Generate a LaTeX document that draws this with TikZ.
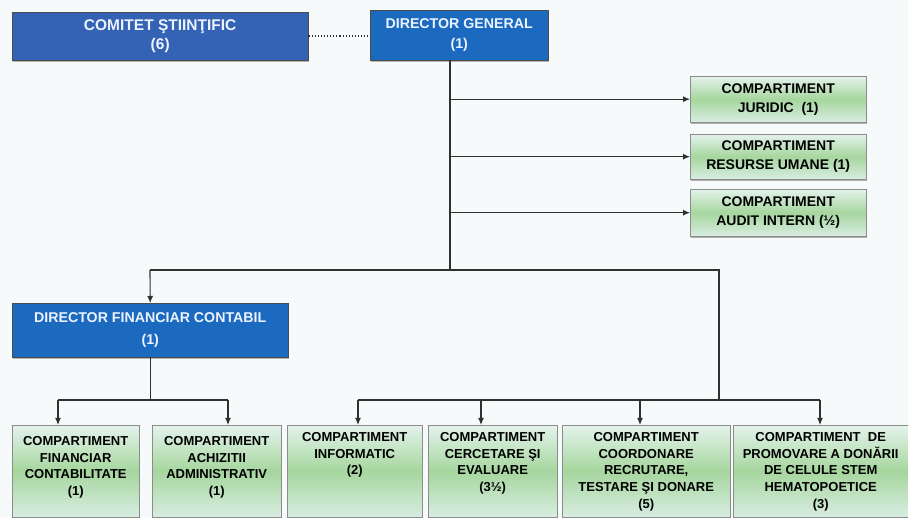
\documentclass[tikz,border=0pt]{standalone}
\usepackage{fontspec}
\setmainfont{Liberation Sans}
\usetikzlibrary{shadows,arrows.meta}

\definecolor{bgpage}{RGB}{246,250,250}
\definecolor{csblue}{RGB}{52,98,180}
\definecolor{dgblue}{RGB}{28,106,192}
\definecolor{txtw}{RGB}{236,243,255}
\definecolor{paleg}{RGB}{228,243,236}
\definecolor{midg}{RGB}{166,214,158}
\definecolor{lowg}{RGB}{216,237,226}
\definecolor{wire}{RGB}{48,48,48}

% top aligned lines inside the bottom boxes
\newcommand{\boxlines}[2]{\parbox[t][80pt][t]{#1}{\centering #2}}

\begin{document}
\begin{tikzpicture}[x=1pt,y=-1pt,>={Latex[length=7pt,width=6pt]}]
  \tikzstyle{bluebox}=[rectangle,draw=black!70,fill=dgblue,text=txtw,inner sep=0pt,anchor=north west,
    font=\fontsize{14.2}{20}\selectfont\bfseries,align=center,
    drop shadow={shadow xshift=1pt,shadow yshift=-1.5pt,opacity=.55}]
  \tikzstyle{greenbox}=[rectangle,draw=black!45,top color=paleg,bottom color=lowg,middle color=midg,
    inner sep=6pt,anchor=north west,font=\fontsize{13}{16.8}\selectfont\bfseries,align=center,
    drop shadow={shadow xshift=1pt,shadow yshift=-1.5pt,opacity=.6}]
  \tikzstyle{sidebox}=[greenbox,minimum width=176,font=\fontsize{14}{19}\selectfont\bfseries]
  \tikzstyle{edge}=[draw,wire,line width=1.1pt]

  \path[use as bounding box,fill=bgpage] (0,0) rectangle (908,518);

  % top level
  \node [bluebox,fill=csblue,minimum width=296,minimum height=48,font=\fontsize{15.5}{19}\selectfont\bfseries] (cs) at (12,12) {COMITET ŞTIINŢIFIC\\(6)};
  \node [bluebox,minimum width=178,minimum height=50] (dg) at (370,10) {DIRECTOR GENERAL\\(1)};
  \path[edge,dotted,line width=1.6pt] (cs.east) -- (cs.east -| dg.west);

  % compartments under the general director
  \node [sidebox,minimum height=46] (cj) at (690,76) {COMPARTIMENT\\JURIDIC\ \ (1)};
  \node [sidebox,minimum height=45] (cru) at (690,134) {COMPARTIMENT\\RESURSE UMANE (1)};
  \node [sidebox,minimum height=47] (cai) at (690,189) {COMPARTIMENT\\AUDIT INTERN (½)};

  \coordinate (trunk) at (450,270);
  \path[edge] (dg.south -| trunk) -- (trunk);
  \path[edge,->] (trunk |- cj.west) -- (cj.west);
  \path[edge,->] (trunk |- cru.west) -- (cru.west);
  \path[edge,->] (trunk |- cai.west) -- (cai.west);

  % financial director
  \node [bluebox,minimum width=276,minimum height=54,font=\fontsize{14.2}{22}\selectfont\bfseries] (dfc) at (12,303) {DIRECTOR FINANCIAR CONTABIL\\(1)};

  \coordinate (jl) at (150,270);
  \coordinate (jr) at (719,270);
  \coordinate (jb) at (719,400);
  \path[edge] (jl) -- (jr) -- (jb);
  \path[edge,->] (jl) -- (dfc.north);

  % bottom row
  \node [greenbox,minimum width=125,minimum height=92] (cfc) at (12,425) {\boxlines{115pt}{\vspace*{5pt}COMPARTIMENT\\FINANCIAR\\CONTABILITATE\\(1)}};
  \node [greenbox,minimum width=127,minimum height=92] (caa) at (152,425) {\boxlines{117pt}{\vspace*{5pt}COMPARTIMENT\\ACHIZITII\\ADMINISTRATIV\\(1)}};
  \node [greenbox,minimum width=133,minimum height=92] (ci) at (287,425) {\boxlines{123pt}{\vspace*{1pt}COMPARTIMENT\\INFORMATIC\\(2)}};
  \node [greenbox,minimum width=127,minimum height=92] (cce) at (428,425) {\boxlines{117pt}{\vspace*{1pt}COMPARTIMENT\\CERCETARE ŞI\\EVALUARE\\(3½)}};
  \node [greenbox,minimum width=166,minimum height=92] (ccr) at (562,425) {\boxlines{156pt}{\vspace*{1pt}COMPARTIMENT\\COORDONARE\\RECRUTARE,\\TESTARE ŞI DONARE\\(5)}};
  \node [greenbox,minimum width=173,minimum height=92] (cpd) at (733,425) {\boxlines{163pt}{\vspace*{1pt}COMPARTIMENT\ \ DE\\PROMOVARE A DONĂRII\\DE CELULE STEM\\HEMATOPOETICE\\(3)}};

  \coordinate (fa) at (58,400);
  \coordinate (fb) at (228,400);
  \path[edge] (dfc.south) -- (dfc.south |- fa);
  \path[edge] (fa) -- (fb);
  \path[edge,->] (fa) -- (fa |- cfc.north);
  \path[edge,->] (fb) -- (fb |- caa.north);

  \coordinate (ra) at (358,400);
  \coordinate (rc) at (481,400);
  \coordinate (rd) at (640,400);
  \coordinate (rb) at (820,400);
  \path[edge] (ra) -- (rb);
  \path[edge,->] (ra) -- (ra |- ci.north);
  \path[edge,->] (rc) -- (rc |- cce.north);
  \path[edge,->] (rd) -- (rd |- ccr.north);
  \path[edge,->] (rb) -- (rb |- cpd.north);
\end{tikzpicture}
\end{document}
